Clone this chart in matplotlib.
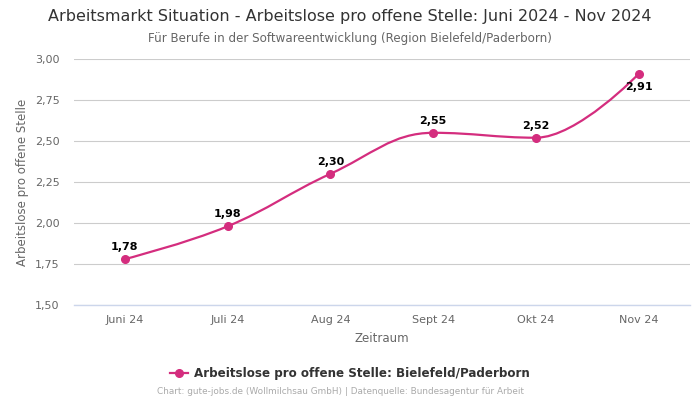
import numpy as np
import matplotlib
matplotlib.use("Agg")
from matplotlib import pyplot as plt
from matplotlib.path import Path
from matplotlib.patches import PathPatch
from matplotlib.lines import Line2D

months = ['Juni 24', 'Juli 24', 'Aug 24', 'Sept 24', 'Okt 24', 'Nov 24']
values = [1.78, 1.98, 2.30, 2.55, 2.52, 2.91]
labels = ['1,78', '1,98', '2,30', '2,55', '2,52', '2,91']
yticks = [1.50, 1.75, 2.00, 2.25, 2.50, 2.75, 3.00]

color = '#d42d7e'


def spline_path(xs, ys):
    # highcharts-like spline control points
    n = len(xs)
    left = [(xs[i], ys[i]) for i in range(n)]
    right = [(xs[i], ys[i]) for i in range(n)]
    s, d = 1.5, 2.5
    for i in range(1, n - 1):
        x, y = xs[i], ys[i]
        lx = (s * x + xs[i - 1]) / d
        ly = (s * y + ys[i - 1]) / d
        rx = (s * x + xs[i + 1]) / d
        ry = (s * y + ys[i + 1]) / d
        corr = (ry - ly) * (rx - x) / (rx - lx) + y - ry
        ly += corr
        ry += corr
        if ly > ys[i - 1] and ly > y:
            ly = max(ys[i - 1], y); ry = 2 * y - ly
        elif ly < ys[i - 1] and ly < y:
            ly = min(ys[i - 1], y); ry = 2 * y - ly
        if ry > ys[i + 1] and ry > y:
            ry = max(ys[i + 1], y); ly = 2 * y - ry
        elif ry < ys[i + 1] and ry < y:
            ry = min(ys[i + 1], y); ly = 2 * y - ry
        left[i] = (lx, ly)
        right[i] = (rx, ry)
    verts = [(xs[0], ys[0])]
    codes = [Path.MOVETO]
    for i in range(1, n):
        verts += [right[i - 1], left[i], (xs[i], ys[i])]
        codes += [Path.CURVE4] * 3
    return Path(verts, codes)


fig = plt.figure(figsize=(7, 4), dpi=100)
ax = fig.add_axes([0.105, 0.2375, 0.881, 0.615])

x = np.arange(len(months))
ax.add_patch(PathPatch(spline_path(list(x), values), facecolor='none',
                       edgecolor=color, lw=1.6, zorder=3))
ax.plot(x, values, 'o', color=color, ms=5.5, zorder=4)

for i, (v, t) in enumerate(zip(values, labels)):
    if i == len(values) - 1:
        ax.annotate(t, (i, v), xytext=(0, -6), textcoords='offset points',
                    ha='center', va='top', fontsize=8, fontweight='bold', color='black')
    else:
        ax.annotate(t, (i, v), xytext=(0, 5), textcoords='offset points',
                    ha='center', va='bottom', fontsize=8, fontweight='bold', color='black')

ax.set_xlim(-0.5, len(months) - 0.5)
ax.set_ylim(1.5, 3.0)
ax.set_yticks(yticks)
ax.set_yticklabels([f'{t:.2f}'.replace('.', ',') for t in yticks])
ax.set_xticks(x)
ax.set_xticklabels(months)
ax.tick_params(axis='both', length=0, labelsize=8, colors='#666666')
ax.tick_params(axis='x', pad=7)
ax.tick_params(axis='y', pad=10)
ax.grid(axis='y', color='#cccccc', lw=0.8)
ax.set_axisbelow(True)
for sp in ax.spines.values():
    sp.set_visible(False)
ax.axhline(1.5, color='#ccd6eb', lw=1, zorder=1, clip_on=False)

ax.set_xlabel('Zeitraum', fontsize=8.5, color='#666666', labelpad=5)
ax.set_ylabel('Arbeitslose pro offene Stelle', fontsize=8.5, color='#666666', labelpad=4)

fig.text(0.5, 0.958, 'Arbeitsmarkt Situation - Arbeitslose pro offene Stelle: Juni 2024 - Nov 2024',
         ha='center', va='center', fontsize=11.5, color='#333333')
fig.text(0.5, 0.903, 'Für Berufe in der Softwareentwicklung (Region Bielefeld/Paderborn)',
         ha='center', va='center', fontsize=8.6, color='#666666')

handle = Line2D([], [], color=color, marker='o', ms=5.5, lw=1.6)
fig.legend([handle], ['Arbeitslose pro offene Stelle: Bielefeld/Paderborn'],
           loc='center', bbox_to_anchor=(0.5, 0.067), frameon=False,
           prop={'size': 8.6, 'weight': 'bold'}, labelcolor='#333333',
           handlelength=1.5, handletextpad=0.5)
fig.text(0.486, 0.02, 'Chart: gute-jobs.de (Wollmilchsau GmbH) | Datenquelle: Bundesagentur für Arbeit',
         ha='center', va='center', fontsize=6.4, color='#aaaaaa')

fig.savefig('out.png', dpi=100)
